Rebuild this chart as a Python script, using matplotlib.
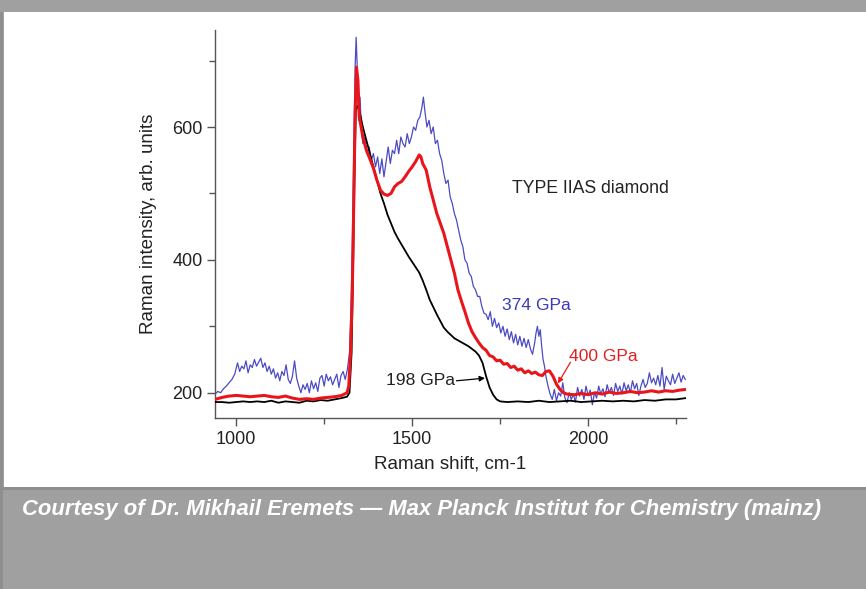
import matplotlib
matplotlib.use("Agg")
import matplotlib.pyplot as plt
from matplotlib.patches import Rectangle
from matplotlib.ticker import MultipleLocator

# ---------------- data ----------------
black_x = [940, 960, 980, 1000, 1020, 1040, 1060, 1080, 1100, 1120, 1140, 1160, 1180, 1200,
           1220, 1240, 1260, 1280, 1300, 1315, 1322, 1328, 1332, 1336, 1340, 1344, 1350, 1360,
           1370, 1380, 1390, 1400, 1410, 1420, 1430, 1440, 1450, 1460, 1470, 1480, 1490, 1500,
           1510, 1520, 1530, 1540, 1550, 1560, 1570, 1580, 1590, 1600, 1610, 1620, 1630, 1640,
           1650, 1660, 1670, 1680, 1690, 1700, 1710, 1720, 1730, 1740, 1750, 1770, 1800, 1830,
           1860, 1890, 1920, 1950, 1980, 2010, 2040, 2070, 2100, 2130, 2160, 2190, 2220, 2250, 2278]
black_y = [186, 186, 185, 186, 187, 186, 187, 186, 188, 185, 187, 186, 185, 188,
           187, 189, 188, 190, 192, 194, 200, 260, 380, 520, 625, 632, 625, 600,
           580, 560, 540, 520, 500, 485, 468, 455, 442, 432, 423, 414, 405, 397,
           389, 381, 369, 355, 340, 329, 318, 308, 298, 292, 287, 282, 279, 276,
           273, 270, 266, 262, 256, 245, 225, 208, 197, 190, 187, 186, 187, 186,
           188, 186, 187, 188, 186, 187, 188, 187, 188, 187, 189, 188, 190, 190, 192]

red_x = [940, 960, 980, 1000, 1020, 1040, 1060, 1080, 1100, 1120, 1140, 1160, 1180, 1200,
         1220, 1240, 1260, 1280, 1300, 1315, 1320, 1325, 1330, 1334, 1338, 1342, 1346, 1350,
         1360, 1370, 1380, 1390, 1400, 1410, 1420, 1430, 1440, 1450, 1460, 1470, 1480, 1490,
         1500, 1510, 1520, 1525, 1530, 1540, 1550, 1560, 1570, 1580, 1590, 1600, 1610, 1620,
         1630, 1640, 1650, 1660, 1670, 1680, 1690, 1700, 1710, 1720, 1730, 1740, 1750, 1760,
         1770, 1780, 1790, 1800, 1810, 1820, 1830, 1840, 1850, 1860, 1870, 1880, 1890, 1900,
         1910, 1920, 1930, 1940, 1960, 1980, 2000, 2020, 2040, 2060, 2080, 2100, 2120, 2140,
         2160, 2180, 2200, 2220, 2240, 2260, 2278]
red_y = [190, 193, 195, 196, 195, 194, 195, 196, 194, 193, 195, 192, 190, 191,
         190, 192, 193, 194, 196, 200, 210, 260, 350, 480, 620, 690, 670, 615,
         585, 565, 552, 538, 520, 505, 499, 497, 500, 510, 515, 518, 525, 533,
         540, 548, 558, 555, 545, 535, 510, 490, 470, 455, 440, 420, 400, 380,
         355, 338, 322, 305, 292, 283, 275, 268, 264, 256, 254, 248, 249, 243,
         244, 238, 240, 234, 236, 230, 233, 229, 231, 227, 226, 232, 233, 225,
         213, 205, 200, 198, 197, 199, 197, 200, 198, 201, 199, 200, 202, 200,
         201, 203, 201, 203, 202, 204, 205]

blue_x = [940, 948, 956, 964, 972, 980, 988, 996, 1004, 1010, 1016, 1022, 1028, 1034, 1040,
          1046, 1052, 1058, 1064, 1070, 1076, 1082, 1088, 1094, 1100, 1106, 1112, 1118, 1124,
          1130, 1136, 1142, 1148, 1154, 1160, 1166, 1172, 1178, 1184, 1190, 1196, 1202, 1208,
          1214, 1220, 1226, 1232, 1238, 1244, 1250, 1256, 1262, 1268, 1274, 1280, 1286, 1292,
          1298, 1304, 1310, 1316, 1322, 1326, 1330, 1334, 1338, 1341, 1344, 1348, 1352, 1356,
          1360, 1366, 1372, 1378, 1384, 1390, 1396, 1402, 1408, 1414, 1420, 1426, 1432, 1438,
          1444, 1450, 1456, 1462, 1468, 1474, 1480, 1486, 1492, 1498, 1504, 1510, 1516, 1522,
          1528, 1532, 1536, 1542, 1548, 1554, 1560, 1566, 1572, 1578, 1584, 1590, 1596, 1602,
          1608, 1614, 1620, 1626, 1632, 1638, 1644, 1650, 1656, 1662, 1668, 1674, 1680, 1686,
          1692, 1698, 1704, 1710, 1716, 1722, 1728, 1734, 1740, 1746, 1752, 1758, 1764, 1770,
          1776, 1782, 1788, 1794, 1800, 1806, 1812, 1818, 1824, 1830, 1836, 1842, 1848, 1852,
          1856, 1860, 1864, 1868, 1872, 1876, 1880, 1886, 1892, 1898, 1904, 1910, 1916, 1922,
          1928, 1934, 1940, 1946, 1952, 1958, 1964, 1970, 1976, 1982, 1988, 1994, 2000, 2006,
          2012, 2018, 2024, 2030, 2036, 2042, 2048, 2054, 2060, 2066, 2072, 2078, 2084, 2090,
          2096, 2102, 2108, 2114, 2120, 2126, 2132, 2138, 2144, 2150, 2156, 2162, 2168, 2174,
          2180, 2186, 2192, 2198, 2204, 2210, 2216, 2222, 2228, 2234, 2240, 2246, 2252, 2258,
          2264, 2270, 2276]
blue_y = [198, 202, 200, 206, 210, 215, 220, 228, 245, 232, 240, 236, 248, 230, 242,
          238, 250, 240, 246, 252, 238, 245, 232, 240, 228, 236, 222, 230, 218,
          232, 226, 242, 220, 214, 225, 248, 222, 210, 200, 212, 205, 214, 200,
          218, 206, 215, 202, 222, 226, 210, 228, 218, 224, 212, 220, 228, 208,
          226, 232, 220, 235, 260, 320, 420, 560, 690, 735, 690, 610, 645, 595,
          575, 585, 560, 570, 550, 560, 540, 555, 530, 552, 525, 548, 570, 545,
          565, 560, 580, 560, 585, 575, 570, 590, 575, 585, 600, 595, 610, 615,
          630, 645, 625, 600, 610, 590, 600, 575, 580, 560, 550, 530, 515, 520,
          495, 485, 470, 460, 445, 430, 420, 400, 395, 380, 375, 360, 355, 345,
          345, 330, 320, 318, 310, 322, 300, 312, 298, 305, 290, 300, 285, 296,
          280, 292, 275, 288, 272, 285, 270, 282, 268, 280, 266, 258, 275, 290,
          300, 285, 295, 270, 250, 240, 225, 210, 198, 190, 205, 188, 200, 195,
          215, 192, 185, 200, 190, 198, 186, 208, 195, 205, 190, 210, 196, 204,
          182, 200, 192, 210, 198, 206, 194, 212, 200, 208, 196, 214, 202, 210,
          198, 215, 203, 212, 200, 218, 206, 214, 196, 210, 220, 208, 214, 230,
          215, 222, 212, 226, 210, 238, 205, 225, 218, 212, 228, 214, 222, 230,
          216, 226, 220]

x_ticks = [1000, 1500, 2000]
y_ticks = [200, 400, 600]

# ---------------- figure ----------------
W, H = 866, 589
fig = plt.figure(figsize=(W / 100, H / 100), dpi=100, facecolor='#a0a0a0')

# white panel and borders
fig.patches.append(Rectangle((4 / W, 1 - 487 / H), 1 - 4 / W, 475 / H,
                             transform=fig.transFigure, facecolor='white',
                             edgecolor='none', zorder=-10))
fig.patches.append(Rectangle((0, 1 - 490 / H), 1, 3 / H, transform=fig.transFigure,
                             facecolor='#8e8e8e', edgecolor='none', zorder=-10))
fig.patches.append(Rectangle((0, 0), 3 / W, 1 - 12 / H, transform=fig.transFigure,
                             facecolor='#8e8e8e', edgecolor='none', zorder=-10))

ax = fig.add_axes([215 / W, 1 - 418 / H, (686 - 215) / W, (418 - 30) / H])
ax.set_zorder(5)
ax.set_facecolor('none')

ax.plot(blue_x, blue_y, color='#4b4bc3', lw=0.9, zorder=2)
ax.plot(black_x, black_y, color='black', lw=1.3, zorder=3)
ax.plot(red_x, red_y, color='#e8161b', lw=2.2, zorder=4)

ax.set_xlim(940, 2278)
ax.set_ylim(162, 746)
ax.set_xticks(x_ticks)
ax.set_yticks(y_ticks)
ax.xaxis.set_minor_locator(MultipleLocator(250))
ax.yaxis.set_minor_locator(MultipleLocator(100))

for s in ['top', 'right']:
    ax.spines[s].set_visible(False)
for s in ['left', 'bottom']:
    ax.spines[s].set_color('#555555')
    ax.spines[s].set_linewidth(1.0)

font = 'Liberation Sans'
ax.tick_params(axis='both', which='major', direction='out', length=6, width=1,
               color='#555555', labelsize=13, labelcolor='#222222', pad=3)
ax.tick_params(axis='both', which='minor', direction='out', length=4, width=1,
               color='#555555')
for lab in ax.get_xticklabels() + ax.get_yticklabels():
    lab.set_fontfamily(font)

ax.set_xlabel('Raman shift, cm-1', fontsize=13.5, family=font, color='#222222', labelpad=6)
ax.set_ylabel('Raman intensity, arb. units', fontsize=13.5, family=font, color='#222222',
              labelpad=11)

ax.text(1784, 508, 'TYPE IIAS diamond', fontsize=12.7, family=font, color='#222222',
        va='center', ha='left')
ax.text(1755, 332, '374 GPa', fontsize=12.6, family=font, color='#3b3bb8',
        va='center', ha='left')
ax.text(1946, 254, '400 GPa', fontsize=12.6, family=font, color='#e02020',
        va='center', ha='left')
ax.text(1622, 218, '198 GPa', fontsize=12.6, family=font, color='#222222',
        va='center', ha='right')

ax.annotate('', xy=(1707, 222), xytext=(1626, 218),
            arrowprops=dict(arrowstyle='-|>', color='black', lw=0.9,
                            mutation_scale=8, shrinkA=0, shrinkB=0))
ax.annotate('', xy=(1914, 214), xytext=(1950, 246),
            arrowprops=dict(arrowstyle='-|>', color='#e02020', lw=0.9,
                            mutation_scale=8, shrinkA=0, shrinkB=0))

fig.text(22 / W, 1 - 509 / H,
         'Courtesy of Dr. Mikhail Eremets \u2014 Max Planck Institut for Chemistry (mainz)',
         family='Liberation Sans', fontweight='bold',
         style='italic', fontsize=15.8, color='white', va='center', ha='left')

fig.savefig('out.png', dpi=100, facecolor=fig.get_facecolor())
